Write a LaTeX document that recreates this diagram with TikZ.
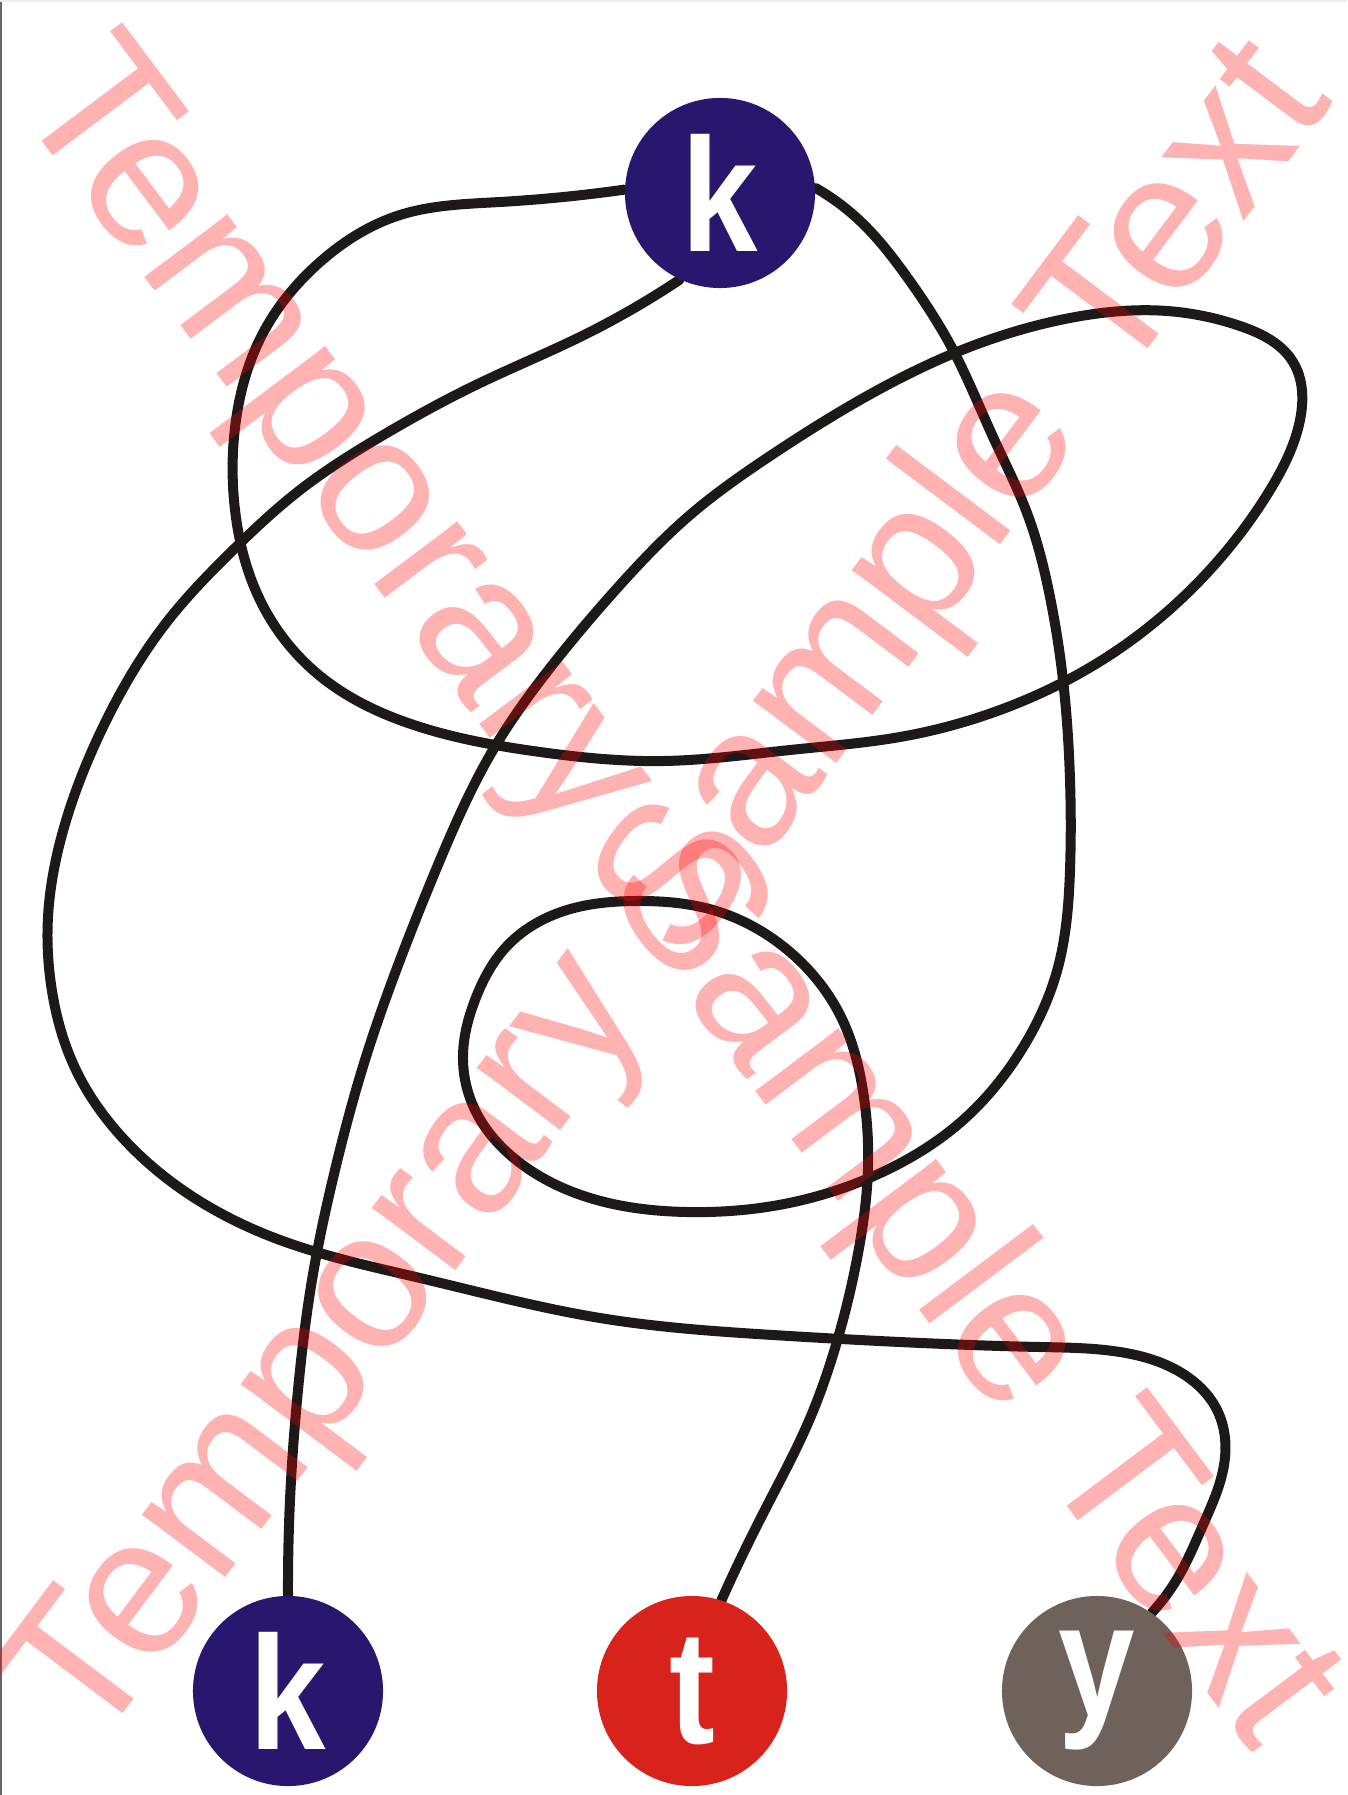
\documentclass[tikz,border=0pt]{standalone}
\usepackage{fontspec}
\setsansfont{Liberation Sans}
\newfontfamily\ballfont[FakeStretch=0.85]{Liberation Sans}
\usepackage{tikz}
\usetikzlibrary{backgrounds, hobby}
\definecolor{KnotBlue}{RGB}{41,22,111}
\definecolor{KnotRed}{RGB}{215,35,28}
\definecolor{KnotGray}{RGB}{111,98,91}
\definecolor{StringBlack}{RGB}{30,25,25}

\begin{document}
\begin{tikzpicture}[x=0.01cm, y=-0.01cm,
		ball/.style={circle, minimum size=1.9cm, inner sep=0pt, text=white, font=\ballfont\bfseries\fontsize{46}{46}\selectfont},
		string/.style={line width=1mm, StringBlack, line cap=round, use Hobby shortcut},
		wmark/.style={text=red, opacity=0.3, font=\sffamily\fontsize{56}{56}\selectfont}]
		\useasboundingbox (0,0) rectangle (1347,1795);
		\draw[gray!80!black, line width=0.25mm] (1,0) -- (1,1795);
		\draw[gray!15, line width=0.2mm] (0,1) -- (1347,1);
		% the four balls
		\node[ball, fill=KnotBlue] (topk) at (720,193) {k};
		\node[ball, fill=KnotBlue] (botk) at (288,1691) {k};
		\node[ball, fill=KnotRed] (tn) at (692,1691) {t};
		\node[ball, fill=KnotGray] (yn) at (1097,1691) {y};
		% the tangled strings
		\begin{scope}[on background layer]
		\draw[string] (topk.178) .. (500,202) .. (400,215) .. (320,262) .. (262,335) .. (236,420) .. (235,510) .. (260,600) .. (320,676) .. (420,727) .. (540,752) .. (664,761) .. (790,750) .. (900,737) .. (1000,710) .. (1107,657) .. (1207,573) .. (1270,490) .. (1300,420) .. (1293,362) .. (1240,326) .. (1167,311) .. (1070,318) .. (957,352) .. (860,400) .. (770,456) .. (690,515) .. (620,585) .. (550,668) .. (493,750) .. (440,860) .. (400,960) .. (365,1060) .. (335,1170) .. (312,1280) .. (298,1390) .. (290,1500) .. (botk.north);
		\draw[string] (topk.245) .. (580,337) .. (480,383) .. (380,437) .. (300,490) .. (230,553) .. (170,618) .. (103,727) .. (63,831) .. (48,917) .. (52,991) .. (75,1068) .. (120,1135) .. (190,1195) .. (280,1240) .. (420,1278) .. (600,1318) .. (773,1335) .. (945,1344) .. (1040,1347) .. (1120,1352) .. (1180,1372) .. (1218,1412) .. (1224,1465) .. (1203,1525) .. (1177,1579) .. (yn.55);
		\draw[string] (topk.3) .. (859,220) .. (907,277) .. (953,350) .. (993,437) .. (1027,513) .. (1050,597) .. (1063,680) .. (1070,780) .. (1070,870) .. (1057,971) .. (1022,1049) .. (962,1121) .. (876,1175) .. (773,1206) .. (687,1212) .. (590,1198) .. (520,1163) .. (475,1110) .. (463,1055) .. (475,1000) .. (507,946) .. (567,910) .. (636,901) .. (713,910) .. (790,952) .. (842,1019) .. (863,1091) .. (868,1169) .. (859,1248) .. (838,1338) .. (808,1423) .. (770,1500) .. (740,1560) .. (tn.72);
		\end{scope}
		% watermarks
		\node[wmark, rotate=-53.1] (mark1) at (673,897) {Temporary Sample Text};
		\node[wmark, rotate=53.1] (mark2) at (673,897) {Temporary Sample Text};
	\end{tikzpicture}
\end{document}
